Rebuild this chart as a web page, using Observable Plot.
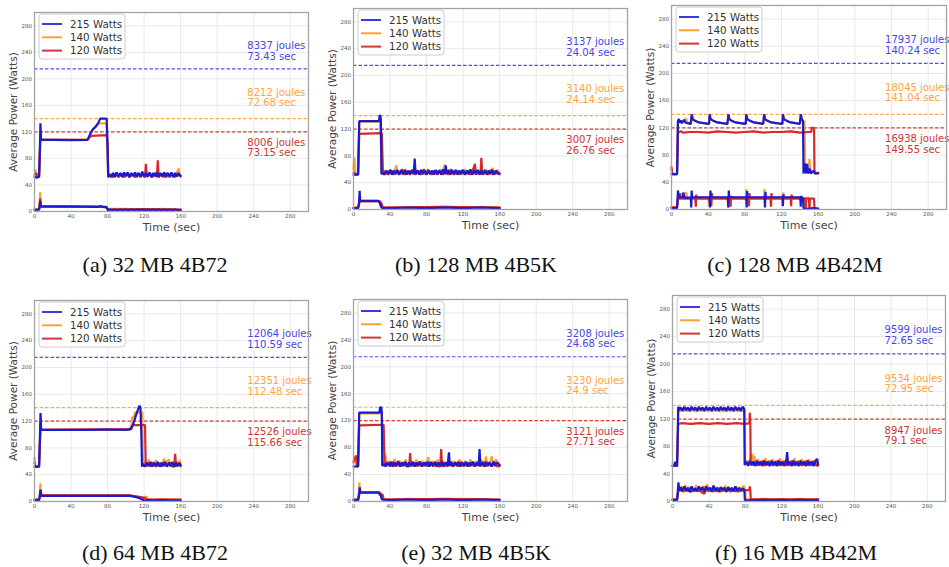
<!DOCTYPE html>
<html><head><meta charset="utf-8">
<script src="https://cdn.jsdelivr.net/npm/d3@7"></script>
<script src="https://cdn.jsdelivr.net/npm/@observablehq/plot@0.6"></script>
<style>
body{margin:0;background:#fff;width:949px;height:567px;position:relative;overflow:hidden;font-family:"DejaVu Sans",sans-serif}
.panel{position:absolute}
.cap{position:absolute;width:320px;text-align:center;font-family:"Liberation Serif",serif;font-size:22px;line-height:22px;color:#111;white-space:nowrap}
</style></head>
<body>
<script>
// ---------- data ----------
const seriesNames = ["215 Watts", "140 Watts", "120 Watts"];
const capWatts = [215, 140, 120];
const xTicks = [0, 40, 80, 120, 160, 200, 240, 280];
const yTicks = [0, 40, 80, 120, 160, 200, 240, 280];
const captions = ["(a) 32 MB 4B72", "(b) 128 MB 4B5K", "(c) 128 MB 4B42M", "(d) 64 MB 4B72", "(e) 32 MB 4B5K", "(f) 16 MB 4B42M"];

const aJoules = ["8337", "8212", "8006"], aSecs = ["73.43", "72.68", "73.15"];
const bJoules = ["3137", "3140", "3007"], bSecs = ["24.04", "24.14", "26.76"];
const cJoules = ["17937", "18045", "16938"], cSecs = ["140.24", "141.04", "149.55"];
const dJoules = ["12064", "12351", "12526"], dSecs = ["110.59", "112.48", "115.66"];
const eJoules = ["3208", "3230", "3121"], eSecs = ["24.68", "24.9", "27.71"];
const fJoules = ["9599", "9534", "8947"], fSecs = ["72.65", "72.95", "79.1"];

// panel (a)
const aHi215 = [[0,52],[3,51],[5,53],[5.8,90],[6.5,133],[7.2,108],[20,108],[40,107.5],[58,108],[61,117],[64,124],[67,128],[70,134],[72,140],[79,140],[80,100],[80.6,52],[82,56],[84,52],[86,58],[88,52],[90,59],[92,53],[94,58],[96,52],[98,59],[100,53],[102,59],[104,52],[106,58],[108,53],[110,59],[112,52],[114,58],[116,53],[118,60],[120,52],[122,58],[124,53],[126,59],[128,52],[130,58],[132,53],[134,59],[136,52],[138,58],[140,53],[142,59],[144,52],[146,58],[148,53],[150,59],[152,52],[154,58],[156,53],[158,57],[160,54]];
const aHi140 = [[0,62],[1,63],[2,52],[5,52],[5.8,80],[6.5,120],[7.2,108],[58,108],[60,112],[62,120],[64,124],[67,128],[70,132],[72,133],[79,133],[80,100],[80.8,52],[83,55],[86,52],[89,57],[92,52],[95,56],[98,52],[101,57],[104,52],[107,56],[110,52],[113,57],[116,52],[119,56],[122,52],[125,57],[128,52],[131,56],[134,52],[137,57],[140,52],[143,56],[146,52],[149,57],[152,52],[155,56],[158,65],[159,52],[160,53]];
const aHi120 = [[0,55],[2,58],[3,52],[5,52],[5.8,85],[6.5,115],[7.2,108],[58,108],[60,111],[62,114],[79,115],[80,100],[80.8,52],[83,56],[86,52],[89,58],[92,52],[95,57],[98,52],[101,58],[104,52],[107,57],[110,52],[113,58],[116,52],[119,57],[121,52],[122,72],[123,52],[126,57],[129,52],[132,58],[134,52],[135,77],[136,52],[139,57],[142,52],[145,58],[148,52],[151,57],[154,52],[157,58],[160,53]];
const aLo215 = [[0,2],[5,3],[5.8,8],[6.3,16],[6.8,8],[7.5,7.5],[40,7.5],[70,7],[72,8.5],[74,7],[78,6.5],[80,4],[80.5,1],[82,3],[85,2],[88,3],[91,2],[94,3],[97,2],[100,3],[103,2],[106,3],[109,2],[112,3],[115,2],[118,3],[121,2],[124,3],[127,2],[130,3],[133,2],[136,3],[139,2],[142,3],[145,2],[148,3],[151,2],[154,3],[157,2],[160,2]];
const aLo140 = [[0,3],[5,3],[5.8,15],[6.2,29],[6.7,10],[7.5,8],[70,7.5],[79,6],[80,3],[82,4],[100,4],[120,3],[140,4],[160,3]];
const aLo120 = [[0,3],[5,3],[5.8,12],[6.3,20],[7,8],[79,7],[80,3],[120,3.5],[160,3]];

// panel (b)
const bHi215 = [[0,52],[5,52],[5.6,90],[6.3,132],[20,132],[28,132],[28.5,140],[29.5,140],[30,132],[30.6,53],[32,55],[34,52],[36,58],[38,53],[40,59],[42,52],[44,58],[46,53],[48,59],[50,52],[52,58],[54,53],[56,59],[58,52],[60,58],[62,53],[64,59],[66,53],[67,76],[68,53],[70,58],[72,52],[74,59],[76,53],[78,58],[80,52],[82,59],[84,53],[86,58],[88,52],[90,59],[92,53],[94,58],[96,52],[98,60],[100,53],[101,66],[102,53],[104,59],[106,52],[108,58],[110,53],[112,59],[114,52],[116,58],[118,53],[120,59],[122,52],[124,58],[126,53],[128,60],[130,52],[132,58],[134,53],[136,59],[138,52],[140,58],[142,53],[144,59],[146,52],[148,58],[150,53],[152,59],[154,52],[156,58],[158,53],[160,54]];
const bHi140 = [[0,60],[1,78],[2,52],[5,52],[5.6,85],[6.3,131],[29,131],[30,100],[31,52],[33,59],[36,52],[39,58],[42,52],[45,59],[47,66],[48,52],[51,58],[54,52],[57,60],[60,52],[63,58],[66,52],[69,59],[72,52],[75,58],[78,52],[81,60],[84,52],[87,58],[90,52],[93,59],[96,52],[99,62],[100,67],[101,52],[104,58],[107,52],[110,59],[113,52],[116,58],[119,52],[122,60],[125,52],[128,58],[131,52],[134,59],[137,52],[140,58],[143,52],[146,59],[149,52],[152,62],[155,52],[158,59],[160,52]];
const bHi120 = [[0,55],[5,52],[5.6,80],[6.3,113],[31,114],[31.5,90],[32.3,53],[35,57],[38,52],[41,59],[44,52],[47,58],[50,52],[53,60],[56,52],[59,57],[62,52],[65,59],[68,52],[71,58],[74,52],[77,60],[80,52],[83,57],[86,52],[89,58],[92,52],[95,59],[98,52],[101,58],[104,52],[107,60],[110,52],[113,58],[116,52],[119,59],[122,52],[125,58],[128,52],[131,60],[133,68],[134,52],[137,58],[139,52],[140,77],[141,52],[144,58],[147,52],[150,59],[153,52],[156,58],[160,53]];
const bLo215 = [[0,2],[5,2],[6,8],[6.7,28],[7.3,14],[8,13],[27,13],[28,12],[30,5],[31,2.5],[40,2],[60,3],[80,2],[100,3],[120,2],[140,3],[160,2]];
const bLo140 = [[0,3],[5,3],[6,10],[7,14],[8,13],[27,13],[29,10],[31,3],[60,3],[100,4],[120,3],[140,4],[160,3]];
const bLo120 = [[0,2],[5,3],[6,8],[7,12],[8,12],[29,12],[31,8],[32,3],[100,4],[160,3]];

// panel (c)
const cHi215 = [[0,52],[6,52],[6.5,80],[7,130],[8,133],[9,128],[10,131],[11,127],[14,132],[15,128],[18,127],[21,126],[22,140],[23,133],[25,131],[30,128],[35,127],[41,126],[41.5,140],[42.5,133],[45,131],[50,128],[55,127],[61,126],[62,140],[63,133],[65,131],[70,128],[75,127],[81,126],[81.5,140],[82.5,133],[85,131],[90,128],[95,127],[100,126],[101,140],[102,133],[104,131],[109,128],[114,127],[121,126],[121.5,140],[122.5,133],[125,131],[130,128],[135,127],[140,126],[141,140],[142,133],[143.5,130],[144,53],[146,68],[147,53],[148,67],[149,53],[151,60],[152,53],[155,57],[157,53],[160,54]];
const cHi140 = [[0,60],[1,52],[6,52],[6.5,80],[7,129],[9,131],[12,127],[16,134],[17,127],[21,126],[22.5,139],[23.5,132],[30,128],[41,126],[42,139],[43,132],[50,128],[61,126],[62.5,139],[63.5,132],[70,128],[81,126],[82,139],[83,132],[90,128],[100,126],[101.5,139],[102.5,132],[109,128],[121,126],[122,139],[123,132],[130,128],[140,126],[141.5,139],[142.5,132],[145,129],[146,53],[148,58],[150,53],[150.5,75],[151.5,53],[154,56],[157,53],[160,53]];
const cHi120 = [[0,62],[1,52],[6,52],[6.5,80],[7,113],[10,115],[13,113],[20,114],[30,114],[40,113],[50,115],[60,114],[70,113],[80,114],[90,115],[100,113],[110,114],[120,114],[130,115],[140,113],[150,114],[152.5,114],[153,120],[155.5,120],[156,53],[160,53]];
const cLo215 = [[0,2],[6,2],[6.5,10],[7,28],[8,18],[12,18],[13,25],[14,17],[21,18],[21.5,3],[22,28],[22.5,18],[41.5,18],[42,3],[42.5,28],[43,18],[61.5,18],[62,3],[62.5,28],[63,18],[81.5,18],[82,3],[82.5,27],[83,18],[101.5,18],[102,3],[102.5,26],[103,18],[121,18],[121.5,5],[122,22],[122.5,18],[140.5,18],[141,4],[141.5,20],[142,17],[143.5,17],[144,2],[150,1],[155,2],[160,1]];
const cLo140 = [[0,3],[6,3],[6.5,12],[7,20],[8,17],[15,17],[16,26],[17,17],[40,17],[41,5],[42,17],[61,17],[62,3],[63,17],[81,17],[81.5,30],[82,17],[101,17],[101.5,30],[102,17],[121,17],[122,25],[122.5,17],[144,17],[145,4],[146,17],[150,17],[150.5,3],[152,2],[160,2]];
const cLo120 = [[0,3],[6,3],[6.5,10],[7,16],[9,16],[9.5,24],[10,16],[26,16],[26.5,4],[27,22],[27.5,16],[43,16],[43.5,5],[44,24],[44.5,16],[64,16],[64.5,4],[65,20],[65.5,16],[84,16],[84.5,5],[85,24],[85.5,16],[108,16],[108.5,4],[109,24],[109.5,16],[130,16],[130.5,5],[131,22],[131.5,16],[146,16],[146.5,3],[147,16],[150,16],[150.5,2],[151,16],[155.5,16],[156,1],[160,1]];

// panel (d)
const dHi215 = [[0,52],[5,52],[5.8,90],[6.6,132],[7.3,107],[20,107],[40,107],[60,107],[80,107.5],[100,107],[105,108],[108,115],[111,128],[114,140],[115,143],[116,140],[117,100],[117.7,52],[119,56],[121,52],[123,58],[125,53],[127,59],[129,52],[131,58],[133,53],[135,59],[137,52],[139,58],[141,53],[143,59],[145,52],[147,58],[149,53],[151,59],[153,52],[155,58],[157,53],[159,57],[160,54]];
const dHi140 = [[0,65],[1,52],[5,52],[5.8,85],[6.6,120],[7.3,107],[104,107],[106,112],[107,125],[109,127],[110,133],[118,133],[118.8,52],[121,60],[123,52],[125,63],[127,52],[129,59],[131,52],[133,62],[135,52],[137,58],[139,52],[141,60],[142,64],[143,52],[145,59],[147,63],[149,52],[151,58],[153,52],[155,60],[157,52],[159,62],[160,52]];
const dHi120 = [[0,58],[1,52],[5,52],[5.8,80],[6.6,110],[7.3,107],[106,108],[107.5,114],[121,114],[121.8,52],[124,57],[127,52],[130,58],[133,52],[136,57],[139,52],[142,59],[145,52],[148,58],[151,52],[153,52],[154,71],[155,52],[158,58],[160,53]];
const dLo215 = [[0,2],[5,2],[6,8],[6.6,17],[7.3,9],[8,8.5],[40,8.5],[80,8.5],[105,8.5],[110,7],[115,5],[118,3],[120,1],[125,2],[130,1.5],[140,2],[150,1.5],[160,1.5]];
const dLo140 = [[0,3],[5,3],[6,15],[6.4,27],[7,12],[8,9],[105,9],[112,7],[118,5],[119,3],[120,7],[123,7],[124,3],[130,3],[140,3.5],[150,3],[160,3]];
const dLo120 = [[0,3],[5,3],[6,10],[6.8,18],[7.5,9],[105,9],[115,7],[121,5],[122,3],[160,3]];

// panel (e)
const eHi215 = [[0,52],[5,52],[5.6,90],[6.3,132],[20,132],[28.5,132],[29,140],[30.5,140],[31,132],[31.5,53],[33,56],[35,52],[37,58],[39,53],[41,59],[43,52],[45,58],[47,53],[49,59],[51,52],[53,58],[55,53],[57,59],[59,52],[61,58],[63,53],[65,59],[67,52],[69,58],[71,53],[73,59],[75,52],[77,58],[79,53],[81,59],[83,52],[85,58],[87,53],[89,59],[91,52],[93,58],[95,53],[97,59],[99,52],[101,58],[103,53],[104.5,73],[105.5,53],[107,59],[109,52],[111,58],[113,53],[115,59],[117,52],[119,58],[121,53],[123,59],[125,52],[127,58],[129,53],[131,59],[133,52],[135,58],[137,53],[138,78],[139,53],[141,58],[143,52],[145,59],[147,53],[149,58],[151,52],[153,59],[155,53],[157,58],[160,54]];
const eHi140 = [[0,60],[2,68],[3,52],[5,52],[5.6,85],[6.3,131],[31,131],[31.5,100],[32,52],[34,62],[35,70],[36,52],[39,60],[42,52],[45,63],[48,52],[51,60],[54,52],[57,62],[60,52],[63,60],[66,52],[69,62],[72,52],[75,60],[78,52],[81,62],[82,66],[83,52],[86,60],[89,52],[92,62],[95,52],[98,60],[101,52],[104,62],[107,52],[110,60],[113,52],[116,62],[119,52],[122,60],[125,52],[128,62],[131,52],[134,60],[137,52],[140,62],[143,52],[145,67],[147,52],[150,60],[151.5,67],[153,52],[156,62],[159,57],[160,52]];
const eHi120 = [[0,58],[3,68],[4,52],[5,52],[5.6,80],[6.3,113],[33,114],[33.6,80],[34.2,53],[37,58],[40,52],[43,59],[46,52],[49,60],[52,52],[55,58],[58,52],[61,52],[62,72],[63,52],[66,58],[69,52],[72,59],[75,52],[78,58],[81,52],[84,59],[87,52],[90,58],[93,52],[95,52],[96,78],[97,52],[100,58],[103,52],[106,59],[109,52],[112,58],[115,52],[118,59],[121,52],[124,58],[127,52],[130,59],[133,52],[136,58],[139,52],[142,59],[145,52],[148,58],[151,52],[154,59],[157,52],[160,53]];
const eLo215 = [[0,2],[5,2],[6,8],[6.8,21],[7.5,13],[27,13],[28,12],[29,10],[30,9],[31,3],[40,2],[60,3],[80,2],[100,3],[120,2],[140,3],[160,2]];
const eLo140 = [[0,3],[5,3],[6,15],[6.4,28],[7,14],[27,14],[29,12],[30,10],[31.5,3],[60,4],[100,3],[120,4],[160,3]];
const eLo120 = [[0,3],[5,3],[6,10],[7,14],[28,14],[30,11],[32,10],[33,3],[100,4],[160,3]];

// panel (f)
const fHi215 = [[0,52],[2,52],[3,58],[4,52],[5,52],[5.5,80],[6.3,138],[7,133],[9,137],[11,132],[13,138],[15,133],[17,137],[19,132],[21,138],[23,133],[25,137],[27,132],[29,138],[31,133],[33,137],[35,132],[37,138],[39,133],[41,137],[43,132],[45,138],[47,133],[49,137],[51,132],[53,138],[55,133],[57,137],[59,132],[61,138],[63,133],[65,137],[67,132],[69,138],[71,133],[73,137],[75,132],[77,138],[78.8,135],[79.3,53],[81,58],[83,52],[85,59],[87,53],[89,58],[91,52],[93,59],[95,53],[97,58],[99,52],[101,59],[103,53],[105,58],[107,52],[109,59],[111,53],[113,58],[115,52],[117,59],[119,53],[121,58],[123,52],[125,59],[126,72],[127,53],[129,58],[131,52],[133,59],[135,53],[137,58],[139,52],[141,59],[143,53],[145,58],[147,52],[149,59],[151,53],[153,58],[155,52],[157,59],[159,62],[160,54]];
const fHi140 = [[0,55],[5,52],[5.5,80],[6.3,134],[8,131],[10,136],[12,131],[14,136],[16,131],[18,135],[20,131],[22,136],[24,131],[26,135],[28,131],[30,136],[32,131],[34,136],[36,131],[38,135],[40,131],[42,136],[44,131],[46,135],[48,131],[50,136],[52,131],[54,135],[56,131],[58,136],[60,131],[62,135],[64,131],[66,136],[68,131],[70,135],[72,131],[74,136],[76,131],[78,135],[79.5,131],[80,53],[82,60],[84,52],[86,68],[87,52],[88,69],[89,52],[90,66],[92,52],[94,62],[96,52],[98,60],[100,52],[102,63],[104,52],[106,60],[108,52],[110,62],[112,52],[114,60],[116,52],[118,63],[120,52],[122,60],[124,52],[126,62],[128,52],[130,60],[132,52],[134,63],[136,52],[138,60],[140,52],[142,62],[144,52],[146,60],[148,52],[150,62],[152,52],[154,60],[156,52],[158,62],[160,52]];
const fHi120 = [[0,52],[5,52],[5.5,80],[6.3,113],[10,114],[20,113],[30,114],[40,113],[50,114],[60,113],[70,114],[80,113],[84.5,114],[85,129],[85.5,114],[86,53],[88,58],[90,52],[92,59],[94,52],[96,58],[98,52],[100,60],[102,52],[104,58],[106,52],[108,59],[110,52],[112,58],[114,52],[116,60],[118,52],[120,58],[122,52],[124,59],[126,52],[128,58],[130,52],[132,60],[134,52],[136,58],[138,52],[140,59],[142,52],[144,58],[146,52],[148,60],[150,52],[152,58],[154,52],[156,59],[158,52],[160,53]];
const fLo215 = [[0,2],[5,2],[5.5,8],[6.5,28],[7.5,16],[9,21],[11,15],[13,22],[15,16],[17,20],[19,14],[21,22],[23,16],[25,19],[27,15],[29,22],[31,16],[33,21],[35,14],[37,22],[39,17],[41,20],[43,15],[45,23],[47,16],[49,20],[51,15],[53,21],[55,17],[57,20],[59,14],[61,21],[63,16],[65,20],[67,15],[69,22],[71,16],[73,20],[75,16],[77,19],[79,17],[79.5,2],[90,1.5],[100,2.5],[110,1.5],[120,2.5],[130,1.5],[140,2.5],[150,1.5],[160,2]];
const fLo140 = [[0,3],[5,3],[5.5,10],[6.5,20],[8,15],[10,22],[12,13],[14,24],[16,16],[18,21],[20,13],[22,20],[24,16],[26,24],[28,14],[30,21],[32,12],[34,23],[36,16],[38,25],[40,14],[42,20],[44,13],[46,22],[48,16],[50,21],[52,13],[54,20],[56,16],[58,23],[60,14],[62,21],[64,13],[66,20],[68,16],[70,22],[72,13],[74,21],[76,16],[78,23],[80,15],[80.5,3],[90,3],[100,4],[110,3],[120,3.5],[130,3],[140,4],[150,3],[160,3]];
const fLo120 = [[0,3],[5,3],[5.5,8],[6.5,16],[10,16],[20,15],[30,16],[35,11],[36,16],[50,15],[60,16],[70,15],[80,16],[84.5,17],[85,22],[85.5,17],[86,3],[100,3],[120,3],[140,3],[160,3]];

// ---------- layout / styling ----------
const traceColors = ["#1a1ad0", "#ffa033", "#d42a2a"];
const dashColors = ["#5050ee", "#ffa84d", "#d63c3c"];
const noteColors = ["#4646e6", "#ffa43c", "#cc3535"];
const legendColors = ["#3a3ae0", "#ffa033", "#d83535"];
const noteCenters = [242, 172, 96];
const noteX = 233;

const panels = [
  {fl:34,  fr:308, ft:12,  fb:211, hi:[aHi215,aHi140,aHi120], lo:[aLo215,aLo140,aLo120], j:aJoules, s:aSecs},
  {fl:353, fr:627, ft:8,   fb:209, hi:[bHi215,bHi140,bHi120], lo:[bLo215,bLo140,bLo120], j:bJoules, s:bSecs},
  {fl:671, fr:946, ft:5,   fb:209, hi:[cHi215,cHi140,cHi120], lo:[cLo215,cLo140,cLo120], j:cJoules, s:cSecs},
  {fl:34,  fr:308, ft:300, fb:501, hi:[dHi215,dHi140,dHi120], lo:[dLo215,dLo140,dLo120], j:dJoules, s:dSecs},
  {fl:353, fr:627, ft:299, fb:501, hi:[eHi215,eHi140,eHi120], lo:[eLo215,eLo140,eLo120], j:eJoules, s:eSecs},
  {fl:672, fr:945, ft:295, fb:501, hi:[fHi215,fHi140,fHi120], lo:[fLo215,fLo140,fLo120], j:fJoules, s:fSecs}
];
const capPos = [[155,272],[476,272],[795,272],[155,560],[476,560],[796,560]];

const mL = 34, mR = 3, mT = 5, mB = 30;
const drawOrder = [1, 2, 0];

panels.forEach((p, pi) => {
  const w = p.fr - p.fl, h = p.fb - p.ft;
  const notes = capWatts.map((c, i) => ({y: noteCenters[i], text: `${p.j[i]} joules\n${p.s[i]} sec`, i}));
  const marks = [
    Plot.gridX(xTicks, {stroke: "#e4e4e4", strokeOpacity: 1, strokeWidth: 0.8}),
    Plot.gridY(yTicks, {stroke: "#e4e4e4", strokeOpacity: 1, strokeWidth: 0.8}),
    Plot.axisX(xTicks, {tickSize: 0, tickPadding: 3, fontSize: 5.5, fill: "#555", label: null}),
    Plot.axisY(yTicks, {tickSize: 0, tickPadding: 2.5, fontSize: 5.5, fill: "#555", label: null}),
    Plot.ruleY(capWatts, {y: d => d, stroke: (d, i) => dashColors[i], strokeDasharray: "3.5,2", strokeWidth: 1.2})
  ];
  for (const k of drawOrder) {
    marks.push(Plot.line(p.lo[k], {x: d => d[0], y: d => d[1], stroke: traceColors[k], strokeWidth: 2.2, strokeLinejoin: "miter"}));
  }
  for (const k of drawOrder) {
    marks.push(Plot.line(p.hi[k], {x: d => d[0], y: d => d[1], stroke: traceColors[k], strokeWidth: 2.2, strokeLinejoin: "miter"}));
  }
  marks.push(Plot.text(notes, {x: () => noteX, y: "y", text: "text", fill: d => noteColors[d.i], textAnchor: "start", lineAnchor: "middle", fontSize: 10, lineHeight: 1.05}));
  marks.push(Plot.text(["Time (sec)"], {frameAnchor: "bottom", dy: 16, textAnchor: "middle", lineAnchor: "middle", fontSize: 11, fill: "#444"}));
  marks.push(Plot.text(["Average Power (Watts)"], {frameAnchor: "left", dx: -21, rotate: -90, textAnchor: "middle", lineAnchor: "middle", fontSize: 10.5, fill: "#444"}));
  marks.push(Plot.frame({stroke: "#a3a3a3", strokeWidth: 1.3}));

  const chart = Plot.plot({
    width: w + mL + mR, height: h + mT + mB,
    marginLeft: mL, marginRight: mR, marginTop: mT, marginBottom: mB,
    x: {domain: [0, 300]}, y: {domain: [0, 300]},
    style: {fontFamily: "DejaVu Sans", background: "white", overflow: "visible"},
    marks
  });
  const div = document.createElement("div");
  div.className = "panel";
  div.style.left = (p.fl - mL) + "px";
  div.style.top = (p.ft - mT) + "px";
  div.appendChild(chart);
  document.body.appendChild(div);

  // legend box
  const svg = d3.select(chart);
  const lx = mL + 5, ly = mT + 2;
  const g = svg.append("g").attr("transform", `translate(${lx},${ly})`);
  g.append("rect").attr("width", 86).attr("height", 45).attr("rx", 3)
    .attr("fill", "white").attr("stroke", "#cccccc").attr("stroke-width", 1);
  seriesNames.forEach((name, i) => {
    const yy = 10 + i * 13.3;
    g.append("line").attr("x1", 3).attr("x2", 23).attr("y1", yy).attr("y2", yy)
      .attr("stroke", legendColors[i]).attr("stroke-width", 2);
    g.append("text").attr("x", 31).attr("y", yy).attr("dy", "0.35em")
      .attr("text-anchor", "start")
      .attr("font-size", 10.3).attr("fill", "#333").attr("font-family", "DejaVu Sans").text(name);
  });

  // caption
  const cap = document.createElement("div");
  cap.className = "cap";
  cap.textContent = captions[pi];
  cap.style.left = (capPos[pi][0] - 160) + "px";
  cap.style.top = (capPos[pi][1] - 18.4) + "px";
  document.body.appendChild(cap);
});
</script>
</body></html>
